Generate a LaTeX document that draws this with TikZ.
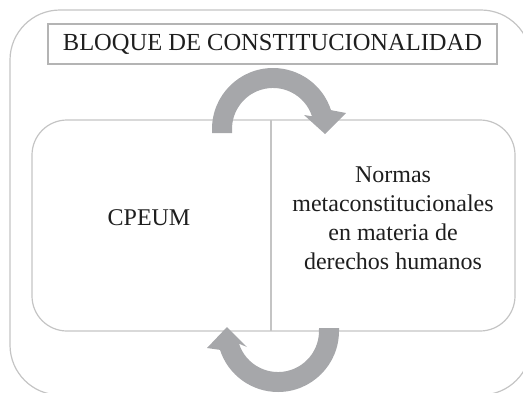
\documentclass[tikz,border=0pt]{standalone}
\usepackage{fontspec}
\setmainfont{Liberation Serif}
\definecolor{frame}{HTML}{C4C4C4}
\definecolor{tbox}{HTML}{B4B4B4}
\definecolor{arrowgray}{HTML}{A6A7AA}
\definecolor{ink}{HTML}{1E1E1E}
\begin{document}
\begin{tikzpicture}[x=1pt,y=-1pt,
  framebox/.style={draw=frame,line width=1.2pt},
  titlebox/.style={draw=tbox,line width=1.1pt,minimum width=449pt,minimum height=40pt,inner sep=0pt,text=ink,font=\fontsize{24.5}{29}\selectfont},
  label/.style={text=ink,font=\fontsize{24}{29}\selectfont,align=center,inner sep=0pt},
  bigarrow/.style={fill=arrowgray,draw=none}]
\useasboundingbox (0,0) rectangle (523,392);
% outer frame
\draw[framebox,rounded corners=50pt] (10,10) rectangle (531,395);
% title
\node[titlebox] (title) at (272.5,44) {BLOQUE DE CONSTITUCIONALIDAD};
% inner box
\coordinate (innerNW) at (32,120);
\coordinate (innerSE) at (515,331);
\coordinate (divtop) at (271,120);
\coordinate (divbot) at (271,331);
\draw[framebox,rounded corners=35pt] (innerNW) rectangle (innerSE);
\draw[framebox] (divtop) -- (divbot);
% texts
\node[label] (cpeum) at (149,218) {CPEUM};
\node[label] (normas) at (393,218) {Normas\\metaconstitucionales\\en materia de\\derechos humanos};
% top arrow
\fill[bigarrow] (212,133) -- (212,129) arc[start angle=180,end angle=342,radius=61]
  -- (346,113) -- (325,134) -- (304,115) -- (312,116.3)
  arc[start angle=342,end angle=180,radius=41] -- (232,133) -- cycle;
% bottom arrow
\fill[bigarrow] (319,328) -- (339,328) -- (339,331) arc[start angle=0,end angle=162,radius=61]
  -- (207,348) -- (227,327) -- (247,347) -- (239,343.7)
  arc[start angle=162,end angle=0,radius=41] -- cycle;
\end{tikzpicture}
\end{document}
